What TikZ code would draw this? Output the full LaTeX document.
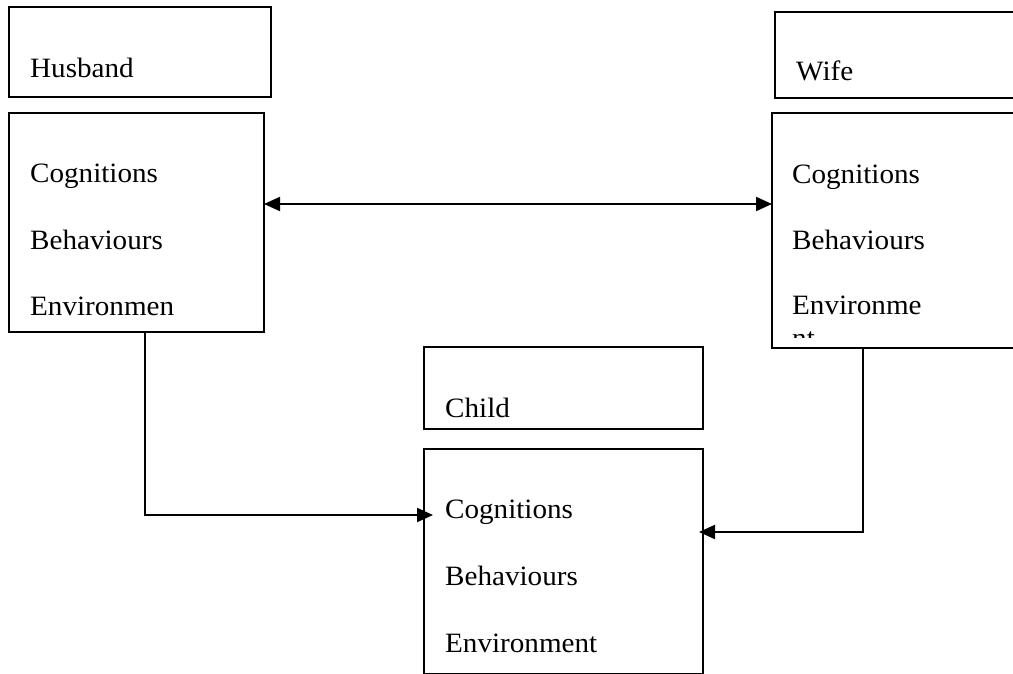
\documentclass[tikz,border=0pt]{standalone}
\usepackage{fontspec}
\setmainfont{Liberation Serif}[FakeStretch=1.04]
\usetikzlibrary{arrows.meta}
\begin{document}
\begin{tikzpicture}[x=1pt,y=-1pt,
  boxshape/.style={draw=black,line width=1.8pt},
  lbl/.style={anchor=base west,inner sep=0pt,font=\fontsize{28}{32}\selectfont},
  conn/.style={draw=black,line width=2pt,-{Triangle[length=16pt,width=14pt]}},
  dconn/.style={draw=black,line width=2pt,{Triangle[length=16pt,width=14pt]}-{Triangle[length=16pt,width=14pt]}}]
\clip (0,0) rectangle (1013,673);
\fill[white] (0,0) rectangle (1013,673);
% boxes
\path[boxshape] (9,7) rectangle (271,97);
\path[boxshape] (9,113) rectangle (264,332);
\path[boxshape] (775,12) rectangle (1040,98);
\path[boxshape] (772,113) rectangle (1040,348);
\path[boxshape] (424,347) rectangle (703,429);
\path[boxshape] (424,449) rectangle (703,674);
\coordinate (hmainE) at (264,204);
\coordinate (wmainW) at (772,204);
\coordinate (hmainS) at (145,332);
\coordinate (hcorner) at (145,515);
\coordinate (cmainW) at (433,515);
\coordinate (wmainS) at (863,348);
\coordinate (wcorner) at (863,532);
\coordinate (cmainE) at (699,532);
% texts
\node[lbl] (husband) at (30,77) {Husband};
\node[lbl] (hcog) at (30,182) {Cognitions};
\node[lbl] (hbeh) at (30,249) {Behaviours};
\node[lbl] (henv) at (30,315) {Environmen};
\node[lbl] (wife) at (796,80) {Wife};
\node[lbl] (wcog) at (792,183) {Cognitions};
\node[lbl] (wbeh) at (792,249) {Behaviours};
\node[lbl] (wenv) at (792,314) {Environme};
\begin{scope}
\clip (772,320) rectangle (1013,337);
\node[lbl] (wnt) at (792,347) {nt};
\end{scope}
\node[lbl] (child) at (445,417) {Child};
\node[lbl] (ccog) at (445,518) {Cognitions};
\node[lbl] (cbeh) at (445,585) {Behaviours};
\node[lbl] (cenv) at (445,652) {Environment};
% connectors
\draw[dconn] (hmainE) -- (wmainW);
\draw[conn] (hmainS) -- (hcorner) -- (cmainW);
\draw[conn] (wmainS) -- (wcorner) -- (cmainE);
\end{tikzpicture}
\end{document}
